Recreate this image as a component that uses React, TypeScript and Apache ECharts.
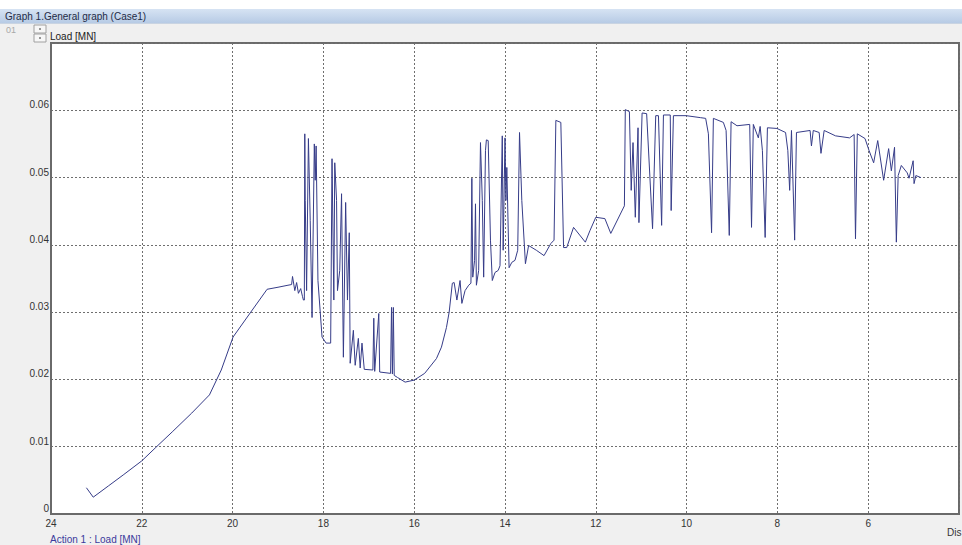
import React, { useEffect, useRef } from "react";
import * as echarts from "echarts";

// Displacement (x) and Load [MN] (y), in segments
const rampDisp = [23.22, 23.07, 22.73, 22.41, 22.0, 21.69, 21.33, 20.9, 20.51, 20.25, 19.99, 19.6, 19.24, 19.0, 18.78, 18.7, 18.68, 18.63, 18.59, 18.55, 18.5, 18.46, 18.44];
const rampLoad = [0.0039, 0.0025, 0.0042, 0.0058, 0.0079, 0.0099, 0.0122, 0.015, 0.0177, 0.0214, 0.0263, 0.03, 0.0334, 0.0337, 0.034, 0.0341, 0.0353, 0.0332, 0.0344, 0.0328, 0.0335, 0.0323, 0.0318];

const spikeADisp = [18.42, 18.41, 18.4, 18.37, 18.33, 18.29, 18.25, 18.2, 18.18, 18.16, 18.12, 18.03, 17.94, 17.84, 17.81, 17.77, 17.75, 17.71, 17.69, 17.64, 17.6, 17.56, 17.51, 17.47, 17.43, 17.41, 17.34, 17.3, 17.23, 17.19, 17.15, 17.1, 16.91, 16.89, 16.87, 16.78, 16.76, 16.52, 16.5, 16.48, 16.46, 16.44, 16.37];
const spikeALoad = [0.0318, 0.0565, 0.0466, 0.0332, 0.0558, 0.0436, 0.0292, 0.055, 0.0496, 0.0547, 0.0347, 0.0263, 0.0254, 0.0254, 0.0528, 0.0318, 0.0522, 0.0466, 0.0332, 0.0362, 0.0476, 0.0233, 0.0463, 0.0318, 0.0418, 0.0224, 0.0273, 0.0221, 0.0261, 0.0217, 0.0254, 0.0215, 0.0214, 0.0291, 0.0212, 0.0298, 0.0211, 0.0209, 0.0307, 0.0208, 0.0307, 0.0206, 0.0203];

const valleyDisp = [16.2, 16.0, 15.77, 15.51, 15.4, 15.29, 15.23, 15.16, 15.12, 15.06, 14.99, 14.95, 14.88, 14.8];
const valleyLoad = [0.0196, 0.0199, 0.0209, 0.0231, 0.0248, 0.0277, 0.03, 0.0343, 0.0344, 0.0318, 0.0347, 0.0313, 0.0332, 0.034];

const spikeBDisp = [14.75, 14.73, 14.71, 14.67, 14.65, 14.63, 14.58, 14.54, 14.5, 14.47, 14.43, 14.41, 14.37, 14.32, 14.28, 14.22, 14.15, 14.11, 14.06, 14.04, 14.0, 13.98, 13.96, 13.91, 13.85, 13.78, 13.72, 13.68, 13.63, 13.55, 13.48, 13.31, 13.14, 12.99, 12.92, 12.88, 12.77, 12.71, 12.64];
const spikeBLoad = [0.0343, 0.0499, 0.0352, 0.0377, 0.0461, 0.034, 0.0362, 0.0552, 0.0466, 0.0352, 0.054, 0.0556, 0.0555, 0.0407, 0.0347, 0.0359, 0.0362, 0.0369, 0.0562, 0.0392, 0.0559, 0.0466, 0.0515, 0.0366, 0.0374, 0.0377, 0.0392, 0.0567, 0.0466, 0.0372, 0.0399, 0.0392, 0.0384, 0.0402, 0.0407, 0.0585, 0.0582, 0.0396, 0.0396];

const plateauDisp = [12.49, 12.23, 12.13, 12.0, 11.8, 11.67, 11.37, 11.35, 11.26, 11.22, 11.18, 11.13, 11.07, 11.05, 10.98, 10.88, 10.75, 10.68, 10.62, 10.55, 10.51, 10.36, 10.34, 10.29, 10.01, 9.69, 9.58, 9.52, 9.45, 9.41, 9.19, 9.13, 9.06, 9.02, 8.89, 8.61, 8.57, 8.53, 8.42, 8.38, 8.33, 8.27, 8.22, 8.01, 7.82, 7.77, 7.73, 7.69, 7.62, 7.58, 7.28, 7.25, 7.21, 7.08, 7.04, 6.97, 6.72, 6.41, 6.31, 6.28, 6.24, 6.07, 5.98, 5.88, 5.79, 5.66, 5.55, 5.49, 5.42, 5.38, 5.34, 5.27, 5.14, 5.1, 5.01, 4.99, 4.95, 4.84];
const plateauLoad = [0.0426, 0.0404, 0.0421, 0.0441, 0.0439, 0.0417, 0.0458, 0.0601, 0.0598, 0.0481, 0.0552, 0.0441, 0.0574, 0.0433, 0.0596, 0.0595, 0.0424, 0.0592, 0.0592, 0.0429, 0.0593, 0.0593, 0.0451, 0.0592, 0.0592, 0.0589, 0.0588, 0.0565, 0.0418, 0.0588, 0.0582, 0.057, 0.0414, 0.0583, 0.0577, 0.0579, 0.0426, 0.0579, 0.0559, 0.0576, 0.054, 0.0411, 0.0574, 0.0573, 0.0567, 0.054, 0.0481, 0.057, 0.0407, 0.0567, 0.057, 0.0547, 0.057, 0.0567, 0.0536, 0.057, 0.0562, 0.0559, 0.0564, 0.0409, 0.0565, 0.0558, 0.054, 0.0522, 0.0555, 0.0496, 0.0543, 0.051, 0.0545, 0.0404, 0.0503, 0.0518, 0.0507, 0.0499, 0.0525, 0.0491, 0.0503, 0.05];

const xTicks = { min: 4, max: 24, interval: 2 };
const yTicks = { min: 0, max: 0.07, interval: 0.01 };

const FONT = '"Liberation Sans", Arial, sans-serif';

export default function App() {
  const ref = useRef<HTMLDivElement>(null);

  useEffect(() => {
    if (!ref.current) return;
    const chart = echarts.init(ref.current, null, { renderer: "svg" });
    const disp = [...rampDisp, ...spikeADisp, ...valleyDisp, ...spikeBDisp, ...plateauDisp];
    const load = [...rampLoad, ...spikeALoad, ...valleyLoad, ...spikeBLoad, ...plateauLoad];
    const data = disp.map((d, i) => [d, load[i]]);

    chart.setOption({
      animation: false,
      backgroundColor: "#f0f0f0",
      textStyle: { fontFamily: FONT },
      grid: {
        left: 51,
        top: 43,
        bottom: 31,
        right: -17,
        show: true,
        backgroundColor: "#ffffff",
        borderColor: "#6a6a6a",
        borderWidth: 2,
      },
      xAxis: {
        type: "value",
        inverse: true,
        min: xTicks.min,
        max: xTicks.max,
        interval: xTicks.interval,
        axisLine: { show: true, lineStyle: { color: "#6a6a6a", width: 2 } },
        axisTick: { show: false },
        splitLine: { show: true, lineStyle: { color: "#6f6f6f", type: [2, 2], width: 1 } },
        axisLabel: {
          color: "#333",
          fontSize: 10,
          fontFamily: FONT,
          margin: 4,
          formatter: (v: number) => (v === xTicks.min ? "" : String(v)),
        },
      },
      yAxis: {
        type: "value",
        min: yTicks.min,
        max: yTicks.max,
        interval: yTicks.interval,
        axisLine: { show: true, lineStyle: { color: "#6a6a6a", width: 2 } },
        axisTick: { show: false },
        splitLine: { show: true, lineStyle: { color: "#6f6f6f", type: [2, 2], width: 1 } },
        axisLabel: {
          color: "#333",
          fontSize: 10,
          fontFamily: FONT,
          margin: 2,
          verticalAlign: "bottom",
          lineHeight: 11,
          formatter: (v: number) =>
            v > yTicks.max - 1e-9 ? "" : v === 0 ? "0" : v.toFixed(2),
        },
      },
      series: [
        {
          type: "line",
          data,
          showSymbol: false,
          symbol: "none",
          lineStyle: { color: "#363c88", width: 1 },
        },
      ],
      graphic: [
        { type: "rect", shape: { x: 0, y: 0, width: 962, height: 9 }, style: { fill: "#ffffff" }, silent: true },
        {
          type: "rect",
          shape: { x: 0, y: 9, width: 962, height: 14 },
          style: {
            fill: new echarts.graphic.LinearGradient(0, 0, 0, 1, [
              { offset: 0, color: "#d6e3f3" },
              { offset: 1, color: "#b7cbe5" },
            ]),
          },
          silent: true,
        },
        { type: "line", shape: { x1: 0, y1: 23.5, x2: 962, y2: 23.5 }, style: { stroke: "#c9d4e2", lineWidth: 1 }, silent: true },
        {
          type: "text",
          x: 5,
          y: 16,
          style: { text: "Graph 1.General graph (Case1)", fill: "#1f2c46", font: `10px ${FONT}`, verticalAlign: "middle" },
          silent: true,
        },
        {
          type: "text",
          x: 6,
          y: 30,
          style: { text: "01", fill: "#a8a8a8", font: `9px ${FONT}`, verticalAlign: "middle" },
          silent: true,
        },
        { type: "rect", shape: { x: 34, y: 25, width: 12, height: 8 }, style: { fill: "#f7f7f7", stroke: "#a0a0a0", lineWidth: 1 }, silent: true },
        { type: "rect", shape: { x: 34, y: 34, width: 12, height: 8 }, style: { fill: "#f7f7f7", stroke: "#a0a0a0", lineWidth: 1 }, silent: true },
        { type: "line", shape: { x1: 39, y1: 29, x2: 41, y2: 29 }, style: { stroke: "#333", lineWidth: 1 }, silent: true },
        { type: "line", shape: { x1: 39, y1: 38, x2: 41, y2: 38 }, style: { stroke: "#333", lineWidth: 1 }, silent: true },
        {
          type: "text",
          x: 50,
          y: 36,
          style: { text: "Load [MN]", fill: "#222", font: `10px ${FONT}`, verticalAlign: "middle" },
          silent: true,
        },
        {
          type: "text",
          x: 50,
          y: 539,
          style: { text: "Action 1 : Load [MN]", fill: "#3a3a9c", font: `10px ${FONT}`, verticalAlign: "middle" },
          silent: true,
        },
        {
          type: "text",
          x: 947,
          y: 532,
          style: { text: "Dis", fill: "#333", font: `10px ${FONT}`, verticalAlign: "middle" },
          silent: true,
        },
      ],
    });

    return () => chart.dispose();
  }, []);

  return (
    <div style={{ position: "fixed", left: 0, top: 0, width: 962, height: 545, overflow: "hidden" }}>
      <div ref={ref} style={{ width: 962, height: 545 }} />
    </div>
  );
}
